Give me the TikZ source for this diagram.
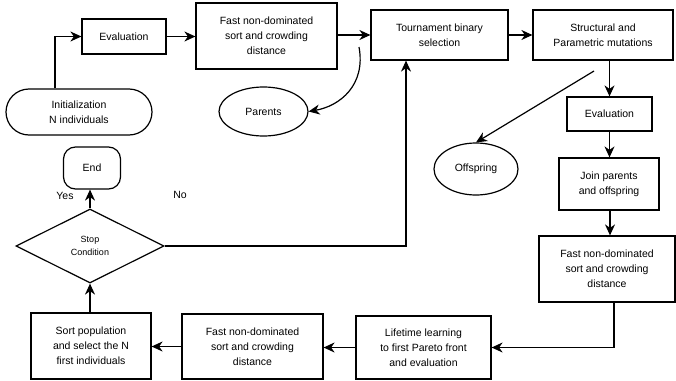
\documentclass[tikz,border=0pt]{standalone}
\usepackage{fontspec}
\setmainfont{Liberation Sans}
\usetikzlibrary{arrows.meta,shapes.geometric}

\begin{document}
\begin{tikzpicture}[x=1pt,y=-1pt,line width=1.2pt,
   box/.style n args={2}{draw,rectangle,minimum width=#1pt,minimum height=#2pt,inner sep=1pt,align=center,font=\fontsize{10.5}{15}\selectfont},
   term/.style n args={3}{box={#1}{#2},rounded corners=#3pt},
   oval/.style n args={2}{draw,ellipse,minimum width=#1pt,minimum height=#2pt,inner sep=0pt,align=center,font=\fontsize{10.5}{15}\selectfont},
   arr/.style={-{Stealth[length=11pt,width=10pt,inset=3.5pt]}},
   lbl/.style={font=\fontsize{10.5}{13}\selectfont}]
\useasboundingbox (0,0) rectangle (676,380);
% top row
\node[term={146}{46}{23}] (init) at (79,112) {Initialization\\N individuals};
\node[box={84}{35}] (evalA) at (124,36.5) {Evaluation};
\node[box={141}{66}] (sortA) at (266.5,36) {Fast non-dominated\\sort and crowding\\distance};
\node[oval={89}{49}] (parents) at (263.5,111.5) {Parents};
\node[box={137}{50}] (tour) at (439.5,35) {Tournament binary\\selection};
\node[box={140}{50}] (mut) at (603,35) {Structural and\\Parametric mutations};
% right column
\node[box={85}{34}] (evalB) at (609.5,114) {Evaluation};
\node[oval={84}{52}] (offs) at (476,169) {Offspring};
\node[box={100}{52}] (join) at (609,184) {Join parents\\and offspring};
\node[box={136}{66}] (sortB) at (607,269) {Fast non-dominated\\sort and crowding\\distance};
% bottom row
\node[box={135}{63}] (life) at (423.5,347.5) {Lifetime learning\\to first Pareto front\\and evaluation};
\node[box={141}{65}] (sortC) at (252.5,346.5) {Fast non-dominated\\sort and crowding\\distance};
\node[box={120}{66}] (select) at (91,346) {Sort population\\and select the N\\first individuals};
% stop and end
\node[draw,diamond,minimum width=148pt,minimum height=74pt,inner sep=0pt,align=center,font=\fontsize{9}{13}\selectfont] (stop) at (90,246) {Stop\\Condition};
\node[term={57}{42}{12}] (finish) at (92,168) {End};
\node[lbl] (yes) at (65,196) {Yes};
\node[lbl] (no) at (180,195) {No};
\coordinate (pstart) at (359,47);
\coordinate (ostart) at (594,71);
% connectors
\draw[arr] ([xshift=-24pt]init.north) |- (evalA.west);
\draw[arr] (evalA.east) -- (evalA.east -| sortA.west);
\draw[arr] (sortA.east |- tour.west) -- (tour.west);
\draw[arr] (pstart) .. controls (366,85) and (340,106) .. (parents.east);
\draw[arr] (tour.east) -- (mut.west);
\draw[arr] (evalB.north |- mut.south) -- (evalB.north);
\draw[arr] (ostart) -- (offs.north);
\draw[arr] (evalB.south) -- (evalB.south |- join.north);
\draw[arr] ([xshift=1pt]join.south) -- ([xshift=1pt]join.south |- sortB.north);
\draw[arr] ([xshift=7pt]sortB.south) |- (life.east);
\draw[arr] (life.west) -- (life.west -| sortC.east);
\draw[arr] (sortC.west) -- (sortC.west -| select.east);
\draw[arr] (select.north) -- (select.north -| stop.south) -- (stop.south);
\draw[arr] (stop.north) -- (stop.north |- finish.south);
\draw[arr] (stop.east) -| ([xshift=-33.5pt]tour.south);
\end{tikzpicture}
\end{document}
